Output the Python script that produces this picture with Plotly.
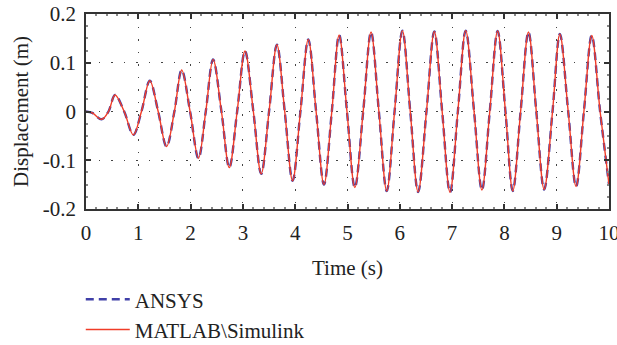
import plotly.graph_objects as go

# Extrema and zero crossings (time in s, displacement in m)
time_s = [0.0, 0.12, 0.30, 0.43, 0.555, 0.73, 0.905, 1.06, 1.22, 1.38, 1.54, 1.69, 1.83,
          1.99, 2.15, 2.29, 2.43, 2.59, 2.74, 2.89, 3.04, 3.20, 3.35, 3.50, 3.65, 3.80,
          3.95, 4.10, 4.25, 4.40, 4.55, 4.70, 4.84, 4.99, 5.14, 5.30, 5.45, 5.60, 5.75,
          5.90, 6.05, 6.20, 6.35, 6.51, 6.66, 6.81, 6.96, 7.11, 7.26, 7.42, 7.57, 7.72,
          7.87, 8.02, 8.16, 8.31, 8.46, 8.61, 8.76, 8.92, 9.06, 9.22, 9.37, 9.52, 9.67,
          9.83, 10.0]
simulink_disp = [0.0, -0.003, -0.016, 0.0, 0.034, 0.0, -0.048, 0.0, 0.063, 0.0, -0.072, 0.0, 0.085,
                 0.0, -0.096, 0.0, 0.107, 0.0, -0.115, 0.0, 0.124, 0.0, -0.128, 0.0, 0.137, 0.0,
                 -0.142, 0.0, 0.148, 0.0, -0.150, 0.0, 0.157, 0.0, -0.156, 0.0, 0.163, 0.0, -0.163,
                 0.0, 0.166, 0.0, -0.165, 0.0, 0.164, 0.0, -0.166, 0.0, 0.166, 0.0, -0.161, 0.0,
                 0.165, 0.0, -0.163, 0.0, 0.163, 0.0, -0.160, 0.0, 0.159, 0.0, -0.154, 0.0, 0.156,
                 0.0, -0.150]
ansys_time = time_s
ansys_disp = simulink_disp

x_ticks = [0, 1, 2, 3, 4, 5, 6, 7, 8, 9, 10]
y_ticks = [-0.2, -0.1, 0, 0.1, 0.2]
y_tick_text = ["-0.2", "-0.1", "0", "0.1", "0.2"]

FONT = "Liberation Serif"
FS = 21
fig = go.Figure()
fig.add_trace(go.Scatter(
    x=ansys_time, y=ansys_disp, mode="lines", name="ANSYS",
    line=dict(color="#4040a8", width=2.4, dash="8px,5px", shape="spline", smoothing=1.0),
    legend="legend",
))
fig.add_trace(go.Scatter(
    x=time_s, y=simulink_disp, mode="lines", name="MATLAB\\Simulink",
    line=dict(color="#f03c28", width=1.4, shape="spline", smoothing=1.0),
    legend="legend2",
))

axis_common = dict(
    showline=True, linecolor="#333333", linewidth=1.5, mirror="ticks",
    ticks="inside", ticklen=5, tickwidth=1.5, tickcolor="#333333",
    showgrid=True, gridcolor="#444444", gridwidth=1, griddash="1.5px,11px",
    zeroline=False, tickfont=dict(family=FONT, size=FS, color="#222222"),
    ticklabeloverflow="allow",
)
fig.update_xaxes(
    range=[0, 10], tickvals=x_ticks, ticklabelstandoff=4,
    title=dict(text="Time (s)", font=dict(family=FONT, size=FS, color="#222222"), standoff=16),
    minor=dict(ticks="inside", ticklen=2, dtick=0.2, tickcolor="#888888", showgrid=False),
    **axis_common,
)
fig.update_yaxes(
    range=[-0.2, 0.2], tickvals=y_ticks, ticktext=y_tick_text, ticklabelstandoff=4,
    title=dict(text="Displacement (m)", font=dict(family=FONT, size=FS, color="#222222"), standoff=8),
    minor=dict(ticks="inside", ticklen=2, dtick=0.025, tickcolor="#888888", showgrid=False),
    **axis_common,
)

legend_common = dict(
    xanchor="left", yanchor="middle", bgcolor="rgba(0,0,0,0)", borderwidth=0,
    font=dict(family=FONT, size=FS, color="#222222"), itemwidth=44,
)
fig.update_layout(
    width=617, height=345,
    margin=dict(l=86, r=8, t=14, b=136, autoexpand=False),
    paper_bgcolor="white", plot_bgcolor="white",
    showlegend=True,
    legend=dict(x=-0.01, y=-0.465, **legend_common),
    legend2=dict(x=-0.01, y=-0.62, **legend_common),
)
fig.write_html("out.html")
